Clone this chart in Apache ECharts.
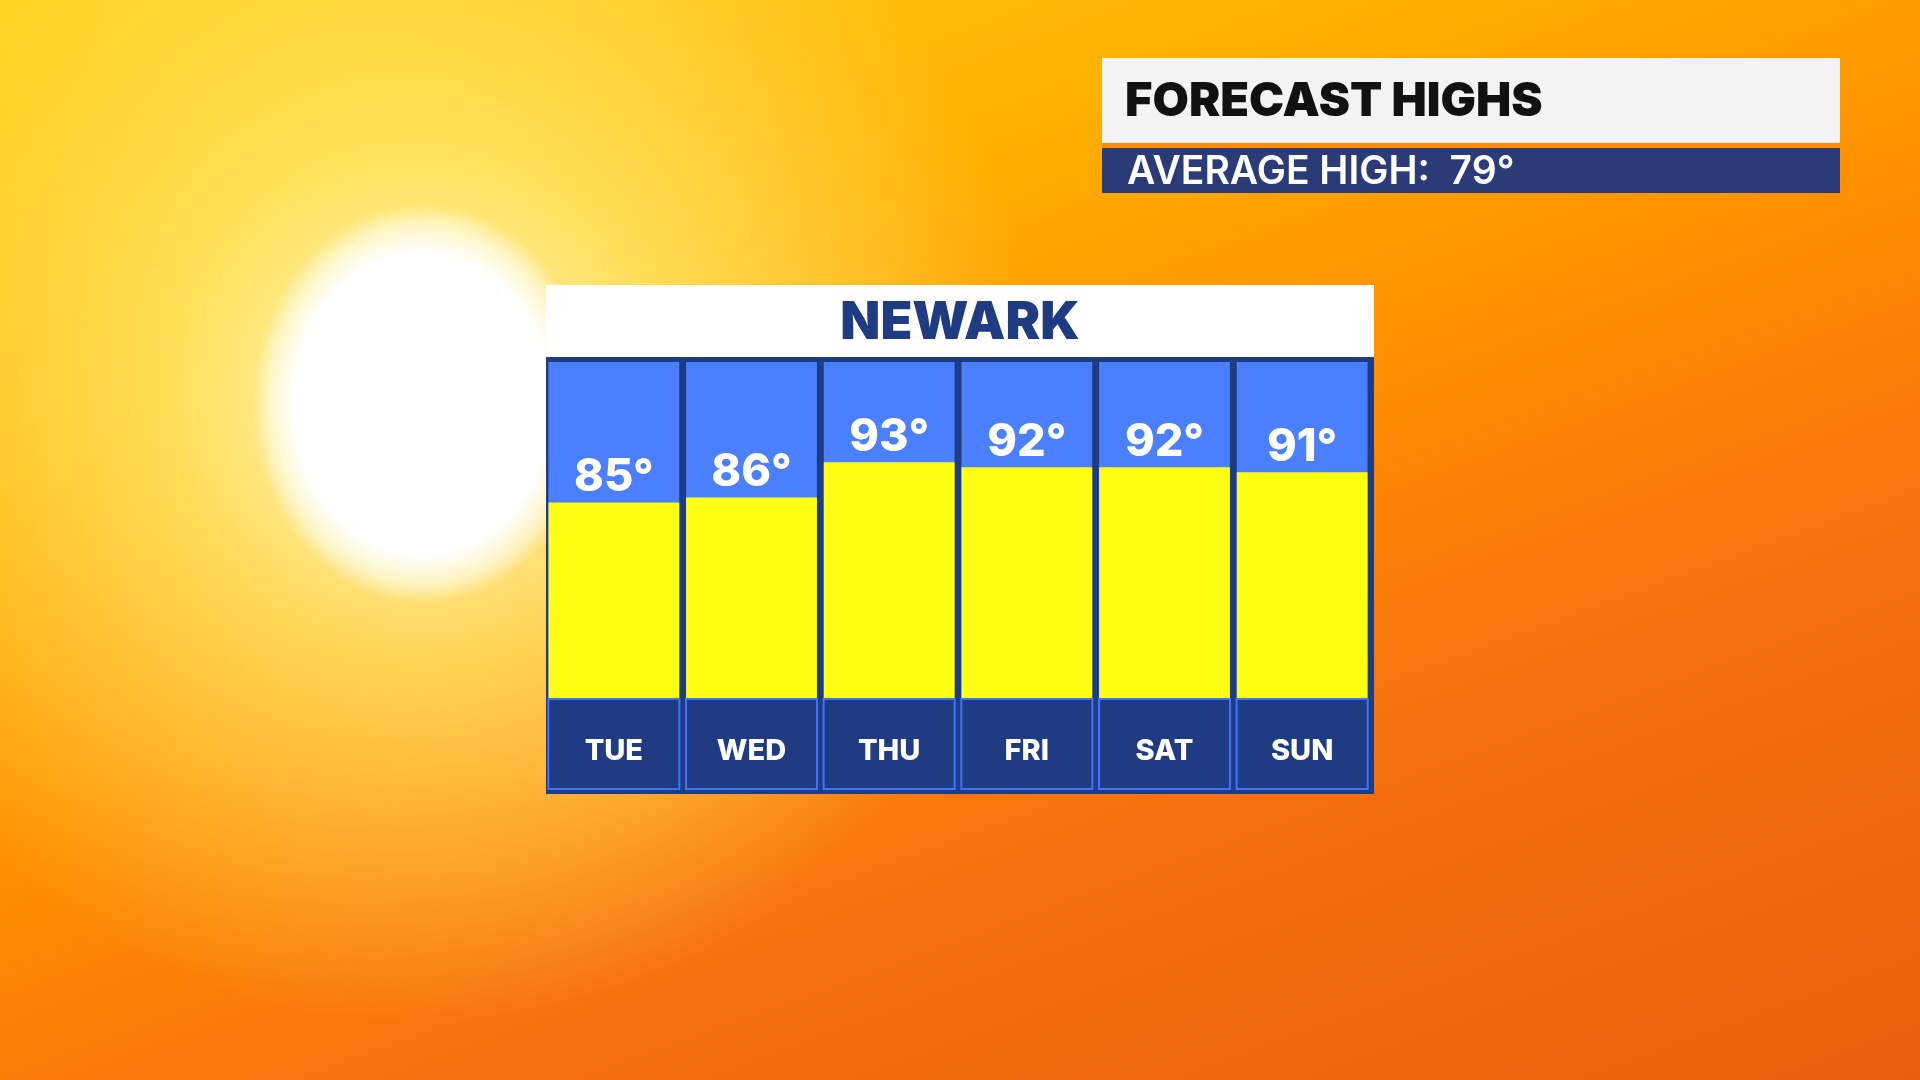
<!DOCTYPE html>
<html><head><meta charset="utf-8">
<script src="https://cdn.jsdelivr.net/npm/echarts@6/dist/echarts.min.js"></script>
<style>
html,body{margin:0;padding:0;width:1920px;height:1080px;overflow:hidden;}
body{background:
 radial-gradient(ellipse 170px 200px at 422px 404px, #ffffff 0%, #ffffff 75%, rgba(255,255,240,0.6) 90%, rgba(255,255,200,0) 100%),
 radial-gradient(circle at 422px 404px, rgba(255,255,220,0.95) 0px, rgba(255,240,120,0.7) 260px, rgba(255,200,0,0) 620px),
 linear-gradient(160deg, #ffd21a 0%, #ffb000 28%, #ff9000 48%, #f57010 70%, #e8600c 100%);}
#c{width:1920px;height:1080px;}
</style></head><body><div id="c"></div>
<script>
const days = ['TUE','WED','THU','FRI','SAT','SUN'];
const highs = [85,86,93,92,92,91];
const titleText = 'FORECAST HIGHS';
const avgText = 'AVERAGE HIGH:  79°';
const cityText = 'NEWARK';

const chart = echarts.init(document.getElementById('c'));
chart.setOption({
  backgroundColor:'transparent',
  grid:{left:545,width:826,top:362,height:336},
  xAxis:{type:'category',data:days,axisLine:{show:false},axisTick:{show:false},
    axisLabel:{color:'#fff',fontFamily:'Inter',fontWeight:800,fontSize:29,margin:2,
      backgroundColor:'#1f3b82',borderColor:'#3f72ff',borderWidth:2,width:129,height:88,lineHeight:102,align:'center'}},
  yAxis:{type:'value',min:46,max:113,show:false},
  graphic:[
    {type:'rect',shape:{x:1102,y:58,width:738,height:86},style:{fill:'#f3f3f3'}},
    {type:'rect',shape:{x:1102,y:143,width:738,height:5},style:{fill:'#ff8a00'}},
    {type:'rect',shape:{x:1102,y:148,width:738,height:45},style:{fill:'#2a3b78'}},
    {type:'text',x:1125,y:102,style:{text:titleText,fill:'#111',font:'900 47px Inter',verticalAlign:'middle'}},
    {type:'text',x:1127,y:172,style:{text:avgText,fill:'#fff',font:'600 39px Inter',verticalAlign:'middle'}},
    {type:'rect',z:-10,shape:{x:546,y:285,width:828,height:72},style:{fill:'#ffffff'}},
    {type:'rect',z:-10,shape:{x:546,y:357,width:828,height:437},style:{fill:'#1f3b82'}},
    {type:'text',x:960,y:323,style:{text:cityText,fill:'#1f3b82',font:'900 52px Inter',align:'center',verticalAlign:'middle'}}
  ],
  series:[{type:'bar',data:highs,barCategoryGap:'5%',
    showBackground:true,backgroundStyle:{color:'#4a7fff'},
    itemStyle:{color:'#ffff14'},
    label:{show:true,position:'top',distance:2,formatter:'{c}°',color:'#fff',fontFamily:'Inter',fontWeight:800,fontSize:45}
  }]
});
</script></body></html>
